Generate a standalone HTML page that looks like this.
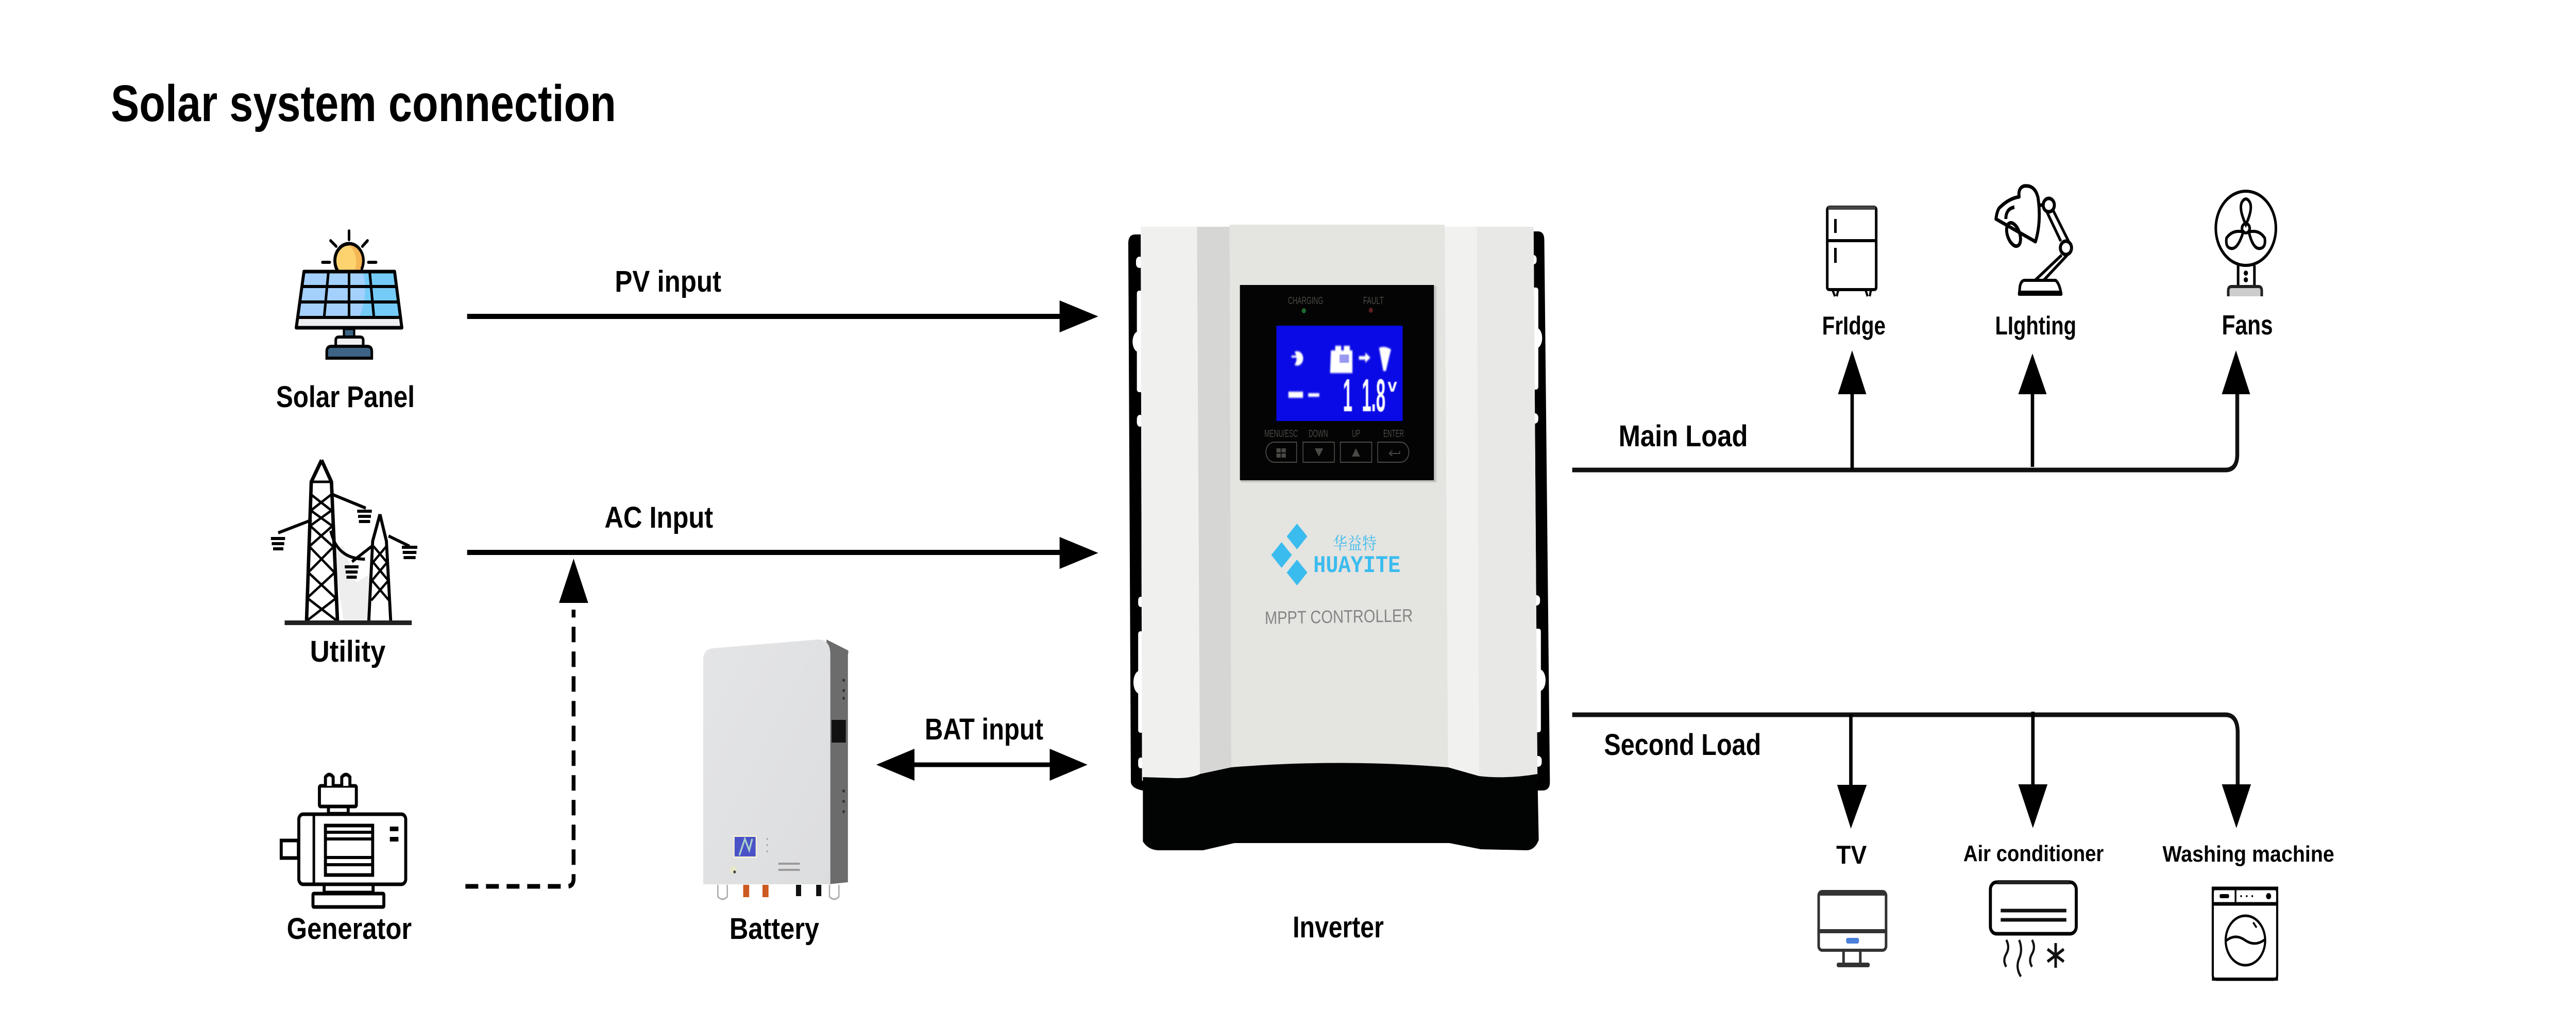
<!DOCTYPE html>
<html><head><meta charset="utf-8"><title>Solar system connection</title>
<style>html,body{margin:0;padding:0;background:#fff;width:100%;height:100%;overflow:hidden}svg{display:block;width:100vw;height:100vh}
text{font-family:"Liberation Sans","Noto Sans CJK SC",sans-serif}
.l{font-weight:700;font-size:58px;fill:#000}
.s{font-weight:700;font-size:50px;fill:#000}</style></head><body>
<svg xmlns="http://www.w3.org/2000/svg" viewBox="0 0 6000 1958" preserveAspectRatio="none">
<defs>
<linearGradient id="bat" x1="0" y1="0" x2="1" y2="1"><stop offset="0" stop-color="#e4e5e6"/><stop offset="1" stop-color="#dcdddf"/></linearGradient>
<filter id="b" x="-30%" y="-30%" width="160%" height="160%"><feGaussianBlur stdDeviation="1.6"/></filter>
<filter id="b2" x="-30%" y="-30%" width="160%" height="160%"><feGaussianBlur stdDeviation="0.8"/></filter>
<clipPath id="sunclip"><rect x="760" y="440" width="110" height="87"/></clipPath>
<clipPath id="panel"><polygon points="708,527 919,527 935,620 691,620"/></clipPath>
</defs>
<rect width="6000" height="1958" fill="#fff"/>

<text x="258" y="235" font-weight="700" font-size="100" textLength="1177" lengthAdjust="spacingAndGlyphs">Solar system connection</text>

<!-- Solar panel icon -->
<g stroke="#000" stroke-linecap="round" fill="none" stroke-width="6">
<line x1="813" y1="448" x2="813" y2="465"/><line x1="770" y1="467" x2="783" y2="478"/><line x1="856" y1="467" x2="844" y2="478"/>
<line x1="751" y1="509" x2="768" y2="509"/><line x1="858" y1="509" x2="876" y2="509"/>
</g>
<g clip-path="url(#sunclip)"><circle cx="813" cy="506" r="33" fill="#fdd36f" stroke="#000" stroke-width="7"/><path d="M813,476 A30,30 0 0 1 840,520 L840,527 L825,527 A40,40 0 0 0 813,476Z" fill="#f5b656"/></g>
<path d="M708,527 L919,527 L935,620 L691,620 Z" fill="#a3d0fd"/>
<g clip-path="url(#panel)"><path d="M845,527 L919,527 L935,620 L835,620 Q860,570 845,527Z" fill="#74cbf7"/></g>
<path d="M693,613 L933,613 L935,636 L691,636 Z" fill="#f0f0f3"/>
<path d="M708,527 L919,527 L936,636 L690,636 Z" fill="none" stroke="#000" stroke-width="7" stroke-linejoin="round"/>
<g stroke="#000" stroke-width="6" fill="none">
<line x1="704" y1="556" x2="923" y2="556"/><line x1="700" y1="586" x2="927" y2="586"/><line x1="694" y1="616" x2="932" y2="616"/>
<line x1="765" y1="527" x2="755" y2="616"/><line x1="813" y1="527" x2="813" y2="616"/><line x1="861" y1="527" x2="871" y2="616"/>
</g>
<rect x="801" y="638" width="24" height="16" fill="#3d6484" stroke="#000" stroke-width="5"/>
<path d="M782,671 V660 Q782,654 790,654 H838 Q846,654 846,660 V671" fill="#f0f0f3" stroke="#000" stroke-width="6"/>
<path d="M761,695 V682 Q761,672 772,672 H855 Q866,672 866,682 V695 Z" fill="#3d6484" stroke="#000" stroke-width="6"/>
<text class="l" x="643" y="790" textLength="323" lengthAdjust="spacingAndGlyphs">Solar Panel</text>

<!-- Utility icon -->
<polygon points="775,1060 800,1205 860,1205 870,1110 830,1130 800,1060" fill="#eee"/>
<g stroke="#000" fill="none" stroke-width="7">
<path d="M749,893 L725,935 L714,1205 M749,893 L772,935 L786,1205" stroke-width="8"/>
<path d="M727,935 H770 M725,960 L771,990 M771,960 L725,990 M723,990 L773,1020 M773,990 L723,1020 M722,1020 L775,1060 M775,1020 L721,1060 M720,1060 L778,1110 M778,1060 L719,1110 M717,1110 L781,1160 M781,1110 L716,1160 M715,1160 L785,1205 M784,1160 L714,1205" stroke-width="5"/>
<path d="M770,958 L852,986 M726,1009 L648,1034 M770,1030 Q785,1085 850,1085" stroke-width="6"/>
<path d="M885,998 L868,1050 L859,1205 M885,998 L900,1050 L910,1205" stroke-width="7"/>
<path d="M870,1060 L900,1090 M900,1060 L870,1090 M868,1090 L903,1125 M903,1090 L868,1125 M865,1125 L906,1165 M906,1125 L865,1165" stroke-width="5"/>
<path d="M905,1040 L954,1060 M866,1060 L820,1090" stroke-width="6"/>
<path d="M631,1045 H664 M633,1055 H662 M636,1065 H660 M832,992 H866 M834,1002 H864 M836,1012 H862 M936,1062 H972 M938,1072 H970 M940,1082 H968 M803,1100 H835 M805,1110 H833 M807,1120 H831" stroke-width="6"/>
</g>
<rect x="663" y="1204" width="296" height="9" fill="#222"/>
<text class="l" x="722" y="1284" textLength="176" lengthAdjust="spacingAndGlyphs">Utility</text>

<!-- Generator icon -->
<g fill="#fff" stroke="#000" stroke-width="7">
<rect x="655" y="1631" width="40" height="34" />
<rect x="744" y="1525" width="86" height="40" rx="3"/>
<path d="M758,1525 V1508 Q767,1498 776,1508 V1525 M796,1525 V1508 Q806,1498 815,1508 V1525"/>
<rect x="765" y="1565" width="46" height="14"/>
<rect x="696" y="1580" width="249" height="136" rx="10"/>
<rect x="758" y="1602" width="110" height="96"/>
<rect x="755" y="1716" width="114" height="16"/>
<rect x="729" y="1734" width="165" height="26" rx="2"/>
</g>
<g stroke="#000" fill="none" stroke-width="6">
<line x1="731" y1="1580" x2="731" y2="1716"/><line x1="758" y1="1615" x2="868" y2="1615"/><line x1="758" y1="1628" x2="868" y2="1628"/><line x1="758" y1="1664" x2="868" y2="1664"/><line x1="758" y1="1678" x2="868" y2="1678"/>
</g>
<rect x="908" y="1604" width="20" height="9"/><rect x="908" y="1624" width="20" height="9"/>
<text class="l" x="668" y="1822" textLength="291" lengthAdjust="spacingAndGlyphs">Generator</text>

<!-- Battery -->
<path d="M1925,1241 L1975,1262 Q1977,1264 1975,1270 V1712 L1930,1716 Z" fill="#6c6c6c"/>
<path d="M1660,1258 L1905,1241 Q1933,1241 1934,1268 V1716 H1638 V1280 Q1638,1260 1660,1258Z" fill="url(#bat)"/>
<rect x="1937" y="1397" width="33" height="44" fill="#111"/>
<g fill="#333"><circle cx="1965" cy="1320" r="3"/><circle cx="1965" cy="1340" r="3"/><circle cx="1965" cy="1355" r="3"/><circle cx="1965" cy="1535" r="3"/><circle cx="1965" cy="1555" r="3"/><circle cx="1965" cy="1575" r="3"/></g>
<rect x="1708" y="1621" width="55" height="44" fill="#f4f0d8"/><rect x="1711" y="1624" width="49" height="38" fill="#4a52c8"/>
<path d="M1722,1660 L1735,1628 L1745,1650 L1752,1628" stroke="#a8d0c8" stroke-width="4" fill="none"/>
<g fill="#aaa"><circle cx="1787" cy="1628" r="2"/><circle cx="1787" cy="1640" r="2"/><circle cx="1787" cy="1652" r="2"/></g>
<rect x="1813" y="1674" width="50" height="4" fill="#9a9a9a"/><rect x="1813" y="1686" width="50" height="4" fill="#9a9a9a"/>
<circle cx="1708" cy="1688" r="8" fill="#e8e8c8"/><circle cx="1711" cy="1692" r="3" fill="#444"/>
<g fill="#cc5a20"><rect x="1731" y="1717" width="14" height="24"/><rect x="1776" y="1717" width="14" height="24"/></g>
<g fill="#111"><rect x="1854" y="1717" width="12" height="22"/><rect x="1901" y="1717" width="12" height="22"/></g>
<g fill="#fff" stroke="#aaa" stroke-width="3"><path d="M1672,1717 V1740 Q1683,1750 1694,1740 V1717"/><path d="M1932,1717 V1740 Q1943,1750 1954,1740 V1717"/></g>
<text class="l" x="1699" y="1822" textLength="209" lengthAdjust="spacingAndGlyphs">Battery</text>

<!-- Left connectors -->
<line x1="1088" y1="614" x2="2480" y2="614" stroke="#000" stroke-width="10"/>
<polygon points="2558,614 2468,583 2468,645" fill="#000"/>
<text class="l" x="1432" y="566" textLength="248" lengthAdjust="spacingAndGlyphs">PV input</text>
<line x1="1088" y1="1072" x2="2480" y2="1072" stroke="#000" stroke-width="10"/>
<polygon points="2558,1073 2468,1042 2468,1104" fill="#000"/>
<text class="l" x="1408" y="1024" textLength="253" lengthAdjust="spacingAndGlyphs">AC Input</text>
<polygon points="1336,1084 1370,1170 1302,1170" fill="#000"/>
<path d="M1084,1720 H1321 Q1336,1720 1336,1705 V1183" fill="none" stroke="#000" stroke-width="9" stroke-dasharray="30 18"/>
<line x1="2110" y1="1484" x2="2470" y2="1484" stroke="#000" stroke-width="9"/>
<polygon points="2041,1484 2130,1453 2130,1515" fill="#000"/>
<polygon points="2533,1484 2445,1453 2445,1515" fill="#000"/>
<text class="l" x="2154" y="1435" textLength="276" lengthAdjust="spacingAndGlyphs">BAT input</text>

<!-- Inverter -->
<path d="M2644,455 Q2628,455 2628,472 L2634,1518 Q2636,1530 2662,1534 H3592 Q3610,1534 3610,1518 L3597,466 Q3597,449 3582,449 Z" fill="#000"/>
<g fill="#fff">
<rect x="2646" y="498" width="16" height="22" rx="8"/><rect x="2648" y="564" width="14" height="197" rx="5"/><ellipse cx="2652" cy="663" rx="14" ry="20"/>
<rect x="2648" y="805" width="14" height="23" rx="8"/><rect x="2651" y="1158" width="12" height="20" rx="7"/><rect x="2651" y="1225" width="12" height="197" rx="5"/><ellipse cx="2654" cy="1324" rx="14" ry="22"/><rect x="2651" y="1470" width="12" height="21" rx="7"/>
<rect x="3565" y="495" width="14" height="18" rx="7"/><rect x="3565" y="558" width="18" height="198" rx="5"/><ellipse cx="3578" cy="656" rx="14" ry="20"/>
<rect x="3565" y="802" width="18" height="20" rx="8"/><rect x="3570" y="1155" width="17" height="20" rx="8"/><rect x="3570" y="1220" width="19" height="201" rx="5"/><ellipse cx="3586" cy="1320" rx="14" ry="21"/><rect x="3572" y="1467" width="19" height="21" rx="8"/>
</g>
<!-- body -->
<path d="M2657,440 L2900,440 L2905,436 L3320,436 L3325,440 L3572,440 L3581,1515 H2660 Z" fill="#f3f3f2"/>
<path d="M2657,440 H2790 L2795,1507 L2660,1510 Z" fill="#f0f0ef"/>
<path d="M2788,440 H2864 L2868,1489 L2795,1507 Z" fill="#d6d7d4"/>
<path d="M2864,436 H3365 L3373,1489 Q3120,1472 2868,1489 Z" fill="#e4e4e0"/>
<path d="M3365,440 H3440 L3445,1508 L3373,1489 Z" fill="#f1f1f0"/>
<path d="M3440,440 H3572 L3581,1508 L3445,1508 Z" fill="#e8e8e6"/>
<!-- base -->
<path d="M2662,1508 L2740,1510 Q2775,1510 2795,1502 L2868,1489 Q3120,1472 3373,1489 L3445,1506 Q3510,1512 3581,1502 L3584,1630 Q3575,1650 3555,1650 L3449,1648 L3376,1636 H2875 L2802,1650 H2700 Q2675,1650 2662,1633 Z" fill="#020403"/>
<!-- LCD panel -->
<rect x="2888" y="553" width="452" height="379" fill="#040404"/>
<rect x="3340" y="555" width="6" height="380" fill="#c8c8c6"/><rect x="2890" y="932" width="455" height="4" fill="#c4c4c2"/>
<rect x="2973" y="632" width="294" height="185" fill="#0a0ae6"/>
<g fill="#fff" filter="url(#b)">
<path d="M3015,683 A14,14 0 1 1 3015,708 A18,18 0 0 0 3015,683Z"/><rect x="3008" y="690" width="12" height="4"/>
<path d="M3100,680 H3150 V724 H3098 Z"/><rect x="3110" y="671" width="14" height="10"/><rect x="3130" y="671" width="14" height="10"/>
<path d="M3165,691 H3180 V684 L3192,694 L3180,704 V698 H3165 Z"/>
<path d="M3212,675 Q3225,670 3240,678 L3233,702 L3228,720 H3222 L3218,702 Z"/>
<rect x="3001" y="760" width="34" height="12"/><rect x="3047" y="763" width="26" height="7"/>
</g>
<rect x="3120" y="688" width="22" height="16" fill="#9898f0" filter="url(#b2)"/>
<g fill="#fff" filter="url(#b2)" font-weight="700">
<text x="3128" y="798" font-size="90" textLength="22" lengthAdjust="spacingAndGlyphs">1</text>
<text x="3172" y="798" font-size="90" textLength="55" lengthAdjust="spacingAndGlyphs">1.8</text>
<text x="3232" y="760" font-size="36" textLength="22" lengthAdjust="spacingAndGlyphs">v</text>
</g>
<g fill="#4a4a46" font-size="20">
<text x="3000" y="590" textLength="82" lengthAdjust="spacingAndGlyphs">CHARGING</text>
<text x="3175" y="590" textLength="48" lengthAdjust="spacingAndGlyphs">FAULT</text>
<text x="2945" y="848" textLength="78" lengthAdjust="spacingAndGlyphs">MENU/ESC</text>
<text x="3048" y="848" textLength="45" lengthAdjust="spacingAndGlyphs">DOWN</text>
<text x="3149" y="848" textLength="19" lengthAdjust="spacingAndGlyphs">UP</text>
<text x="3222" y="848" textLength="48" lengthAdjust="spacingAndGlyphs">ENTER</text>
</g>
<circle cx="3037" cy="603" r="5" fill="#1c6a30"/><circle cx="3193" cy="602" r="5" fill="#5a1f1f"/>
<g fill="none" stroke="#4a4a46" stroke-width="2">
<path d="M2968,858 H3020 V897 H2968 A19,19 0 0 1 2968,858Z"/><rect x="3035" y="858" width="73" height="39"/><rect x="3122" y="858" width="73" height="39"/>
<path d="M3209,858 H3262 A19,19 0 0 1 3262,897 H3209 Z"/>
<path d="M3260,875 V880 H3236 M3243,874 L3236,880 L3243,885"/>
</g>
<g fill="#4a4a46"><rect x="2973" y="870" width="10" height="8"/><rect x="2985" y="870" width="10" height="8"/><rect x="2973" y="880" width="10" height="8"/><rect x="2985" y="880" width="10" height="8"/>
<polygon points="3062,870 3082,870 3072,886"/><polygon points="3149,886 3168,886 3158,870"/></g>
<!-- logo -->
<g fill="#3bbcef"><polygon points="3021,1016 3045,1041 3021,1066 2997,1041"/><polygon points="2985,1052 3009,1077 2985,1102 2961,1077"/><polygon points="3021,1086 3045,1111 3021,1136 2997,1111"/></g>
<text x="3105" y="1066" font-size="33" fill="#3bbcef" style='font-family:"Liberation Serif","Noto Serif CJK SC",serif' textLength="101">华益特</text>
<text x="3059" y="1110" font-size="46" font-weight="700" fill="#3bbcef" style='font-family:"Liberation Mono",monospace' textLength="203" lengthAdjust="spacingAndGlyphs">HUAYITE</text>
<text x="2946" y="1211" font-size="35" fill="#858585" textLength="345" transform="rotate(-0.8 2946 1211)">MPPT  CONTROLLER</text>
<text class="l" x="3011" y="1819" textLength="212" lengthAdjust="spacingAndGlyphs">Inverter</text>

<!-- Main load -->
<path d="M3662,912 H5183 Q5211,912 5211,882 V760" fill="none" stroke="#111" stroke-width="9"/>
<line x1="4314" y1="912" x2="4314" y2="760" stroke="#000" stroke-width="8"/>
<line x1="4734" y1="906" x2="4734" y2="760" stroke="#000" stroke-width="8"/>
<polygon points="4314,680 4347,765 4281,765" fill="#000"/>
<polygon points="4734,686 4767,765 4701,765" fill="#000"/>
<polygon points="5208,680 5241,765 5175,765" fill="#000"/>
<text class="l" x="3770" y="866" textLength="301" lengthAdjust="spacingAndGlyphs">Main Load</text>
<text class="s" x="4244" y="649" textLength="148" lengthAdjust="spacingAndGlyphs">FrIdge</text>
<text class="s" x="4647" y="649" textLength="189" lengthAdjust="spacingAndGlyphs">LIghting</text>
<text class="s" x="5175" y="649" style="font-size:54px" textLength="119" lengthAdjust="spacingAndGlyphs">Fans</text>

<!-- Fridge -->
<g fill="none" stroke="#000">
<path d="M4256,408 Q4256,402 4262,402 H4364 Q4370,402 4370,408 V558 Q4370,562 4364,562 H4262 Q4256,562 4256,558 Z" stroke-width="6"/>
<line x1="4256" y1="467" x2="4370" y2="467" stroke-width="6"/>
<line x1="4275" y1="425" x2="4275" y2="452" stroke-width="6"/><line x1="4275" y1="481" x2="4275" y2="510" stroke-width="6"/>
<path d="M4268,562 L4274,575 M4282,562 L4278,575 M4345,562 L4350,575 M4358,562 L4355,575" stroke-width="5"/>
</g>
<rect x="4258" y="400" width="110" height="7" fill="#444"/>

<!-- Lamp -->
<g fill="none" stroke="#000" stroke-width="7" stroke-linejoin="round">
<path d="M4714,361 Q4740,358 4747,384 Q4755,430 4741,469 L4649,425 Q4652,405 4660,401 Q4680,385 4703,382 Q4700,365 4714,361 Z"/>
<ellipse cx="4690" cy="455" rx="14" ry="24" transform="rotate(-25 4690 455)"/>
<path d="M4672,425 Q4672,405 4692,402" />
<line x1="4748" y1="398" x2="4762" y2="398"/>
<circle cx="4772" cy="398" r="13"/>
<path d="M4768,412 L4800,468 M4782,408 L4818,468" stroke-width="6"/>
<circle cx="4812" cy="481" r="13"/>
<path d="M4802,495 L4740,544 M4815,495 L4760,544" stroke-width="6"/>
<path d="M4703,571 L4705,555 Q4708,544 4716,544 H4788 Q4797,550 4801,571 Z" stroke-width="6"/>
</g>
<rect x="4703" y="564" width="98" height="8" fill="#000"/>

<!-- Fan -->
<g fill="none" stroke="#000" stroke-width="6">
<ellipse cx="5231" cy="443" rx="70" ry="72"/>
<path d="M5231,436 Q5214,405 5222,392 Q5231,380 5240,392 Q5248,405 5231,436Z M5225,450 Q5200,445 5186,462 Q5183,480 5196,482 Q5212,485 5225,450Z M5238,450 Q5262,445 5275,462 Q5278,480 5265,482 Q5248,485 5238,450Z"/>
<circle cx="5231" cy="443" r="9"/>
<path d="M5213,515 V556 M5251,515 V556"/>
</g>
<circle cx="5231" cy="530" r="5"/><circle cx="5231" cy="543" r="5"/>
<path d="M5190,575 V564 Q5190,556 5198,556 H5260 Q5268,556 5268,564 V575" fill="#ccc" stroke="#222" stroke-width="6"/>

<!-- Second load -->
<path d="M3662,1387 H5183 Q5212,1387 5212,1422 V1530" fill="none" stroke="#111" stroke-width="9"/>
<line x1="4311" y1="1386" x2="4311" y2="1530" stroke="#000" stroke-width="8"/>
<line x1="4735" y1="1381" x2="4735" y2="1530" stroke="#000" stroke-width="8"/>
<polygon points="4311,1608 4279,1523 4348,1523" fill="#000"/>
<polygon points="4735,1607 4701,1522 4769,1522" fill="#000"/>
<polygon points="5209,1607 5175,1522 5243,1522" fill="#000"/>
<text class="l" x="3736" y="1465" textLength="366" lengthAdjust="spacingAndGlyphs">Second Load</text>
<text class="s" x="4277" y="1676" textLength="71" lengthAdjust="spacingAndGlyphs">TV</text>
<text class="s" style="font-size:44px" x="4573" y="1671" textLength="327" lengthAdjust="spacingAndGlyphs">Air conditioner</text>
<text class="s" style="font-size:44px" x="5037" y="1672" textLength="400" lengthAdjust="spacingAndGlyphs">Washing machine</text>

<!-- TV -->
<g fill="none" stroke="#333">
<rect x="4236" y="1730" width="157" height="114" rx="8" stroke-width="6"/>
<path d="M4236,1734 H4393" stroke-width="8"/>
<line x1="4236" y1="1807" x2="4393" y2="1807" stroke-width="8"/>
<path d="M4294,1846 V1870 M4333,1846 V1870" stroke-width="6"/>
</g>
<rect x="4278" y="1868" width="77" height="9" rx="4" fill="#333"/>
<rect x="4300" y="1820" width="30" height="11" rx="4" fill="#4a7fdc"/>

<!-- AC -->
<rect x="4636" y="1712" width="200" height="100" rx="14" fill="none" stroke="#000" stroke-width="7"/>
<rect x="4652" y="1708" width="168" height="8" fill="#222"/>
<line x1="4660" y1="1767" x2="4813" y2="1767" stroke="#111" stroke-width="7"/><line x1="4660" y1="1785" x2="4813" y2="1785" stroke="#111" stroke-width="7"/>
<g fill="none" stroke="#111" stroke-width="5">
<path d="M4673,1824 Q4682,1838 4673,1851 Q4664,1864 4673,1876"/>
<path d="M4703,1824 Q4712,1843 4703,1860 Q4694,1878 4707,1895"/>
<path d="M4733,1824 Q4742,1838 4733,1851 Q4724,1864 4733,1876"/>
<path d="M4788,1830 V1878 M4769,1842 L4807,1866 M4807,1842 L4769,1866" stroke-width="6"/>
</g>

<!-- Washer -->
<g fill="none" stroke="#000">
<rect x="5154" y="1723" width="150" height="178" rx="8" stroke-width="5"/>
<line x1="5152" y1="1754" x2="5306" y2="1754" stroke-width="7"/>
<rect x="5152" y="1721" width="154" height="6" fill="#000"/>
<line x1="5207" y1="1727" x2="5207" y2="1754" stroke-width="4"/>
<ellipse cx="5230" cy="1825" rx="46" ry="48" stroke-width="5"/>
<path d="M5183,1827 Q5206,1810 5230,1825 Q5254,1838 5277,1822" stroke-width="5"/>
<line x1="5248" y1="1790" x2="5256" y2="1800" stroke-width="4"/>
</g>
<rect x="5170" y="1735" width="22" height="8" rx="3"/><circle cx="5220" cy="1739" r="2"/><circle cx="5233" cy="1739" r="2"/><circle cx="5246" cy="1739" r="2"/><circle cx="5284" cy="1739" r="6"/>
<rect x="5152" y="1897" width="154" height="6"/>
</svg>
</body></html>
